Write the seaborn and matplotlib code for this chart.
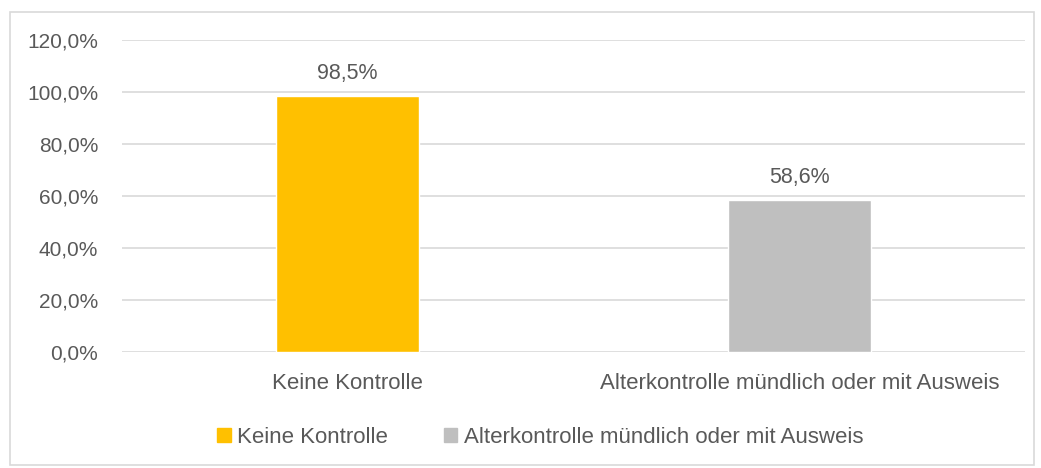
import matplotlib.pyplot as plt
import matplotlib.patches as mpatches
import seaborn as sns
import pandas as pd

# Data
categories = ["Keine Kontrolle", "Alterkontrolle mündlich oder mit Ausweis"]
values = [0.985, 0.586]
value_labels = ["98,5%", "58,6%"]
colors = ["#FFC000", "#BFBFBF"]

df = pd.DataFrame({"Kategorie": categories, "Anteil": values})

sns.set_style("white")
plt.rcParams['font.family'] = ['Liberation Sans', 'DejaVu Sans']
text_color = "#595959"

fig = plt.figure(figsize=(10.41, 4.68), dpi=100)
ax = fig.add_axes([0.117, 0.248, 0.868, 0.6665])

sns.barplot(data=df, x="Kategorie", y="Anteil", hue="Kategorie", palette=colors,
            saturation=1, width=0.317, legend=False, ax=ax, zorder=3)

# Axis range and ticks
ax.set_ylim(0, 1.2)
ax.set_xlim(-0.5, 1.5)
yticks = [0, 0.2, 0.4, 0.6, 0.8, 1.0, 1.2]
ax.set_yticks(yticks)
ax.set_yticklabels(["{:.1f}%".format(t * 100).replace(".", ",") for t in yticks],
                   fontsize=15, color=text_color)
ax.tick_params(axis="x", labelsize=16, labelcolor=text_color, pad=15, length=0)
ax.tick_params(axis="y", length=0, pad=17)
ax.set_xlabel("")
ax.set_ylabel("")

# Gridlines
ax.yaxis.grid(True, color="#D9D9D9", linewidth=1.2, zorder=0)
ax.set_axisbelow(True)
for s in ax.spines.values():
    s.set_visible(False)

# Value labels
for i, (v, lab) in enumerate(zip(values, value_labels)):
    ax.text(i, v + 0.045, lab, ha="center", va="bottom", fontsize=15.5, color=text_color)

# Legend
handles = [mpatches.Patch(color=c, label=l) for c, l in zip(colors, categories)]
fig.legend(handles=handles, loc="center", bbox_to_anchor=(0.519, 0.066), ncol=2,
           frameon=False, fontsize=16, handlelength=0.6, handleheight=0.6,
           handletextpad=0.3, columnspacing=2.5, labelcolor=text_color)

# Chart border
fig.patches.append(mpatches.Rectangle((10 / 1041, 3 / 468), 1024 / 1041, 453 / 468,
                                      transform=fig.transFigure, fill=False,
                                      edgecolor="#D9D9D9", linewidth=1.2))

fig.savefig("out.png", dpi=100)
